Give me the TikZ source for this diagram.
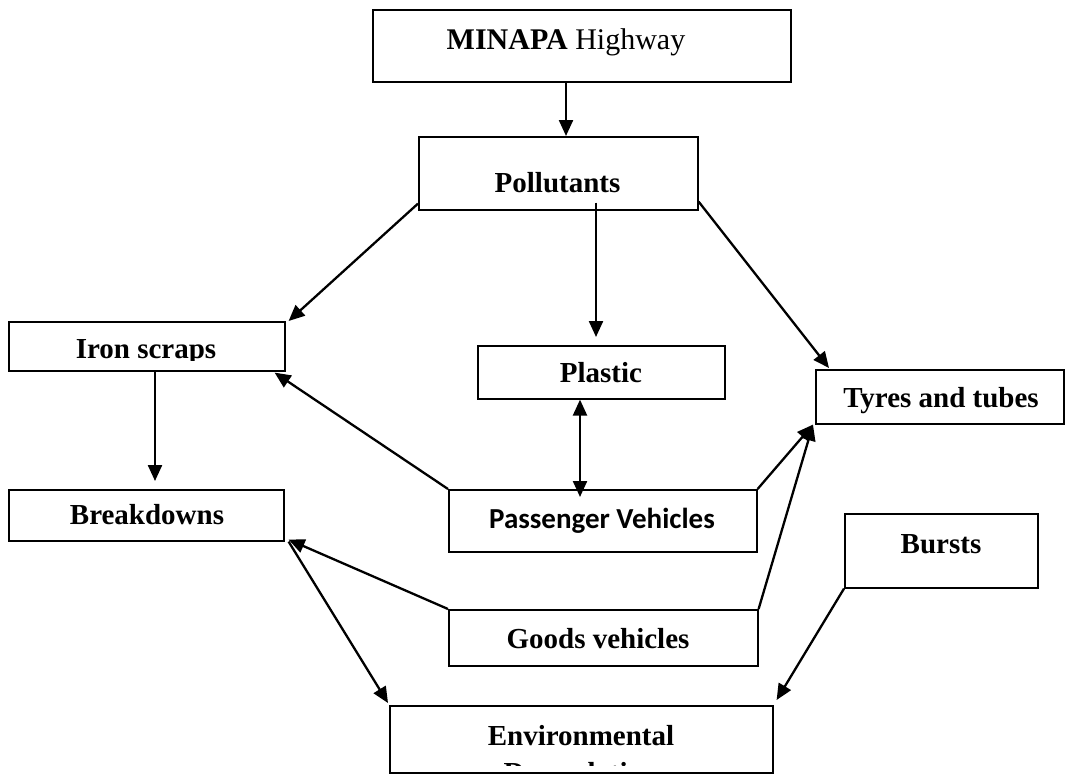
\documentclass[tikz,border=0pt]{standalone}
\usepackage{fontspec}
\setmainfont{Liberation Serif}
\newfontfamily\calib{Carlito}
\usetikzlibrary{arrows.meta,calc}
\begin{document}
\begin{tikzpicture}[x=1pt,y=-1pt,
  box/.style={draw=black,line width=1.6pt,rectangle,inner sep=0pt,anchor=north west},
  lbl/.style={anchor=base,inner sep=0pt,font=\fontsize{29}{33}\selectfont\bfseries},
  arr/.style={line width=2.3pt,-{Triangle[length=16pt,width=14pt]}},
  darr/.style={line width=2.3pt,{Triangle[length=16pt,width=14pt]}-{Triangle[length=16pt,width=14pt]}}]
\useasboundingbox (0,0) rectangle (1065,774);
% boxes
\node[box,minimum width=418pt,minimum height=72pt] (top) at (372,9) {};
\node[box,minimum width=279pt,minimum height=73pt] (poll) at (418,136) {};
\node[box,minimum width=276pt,minimum height=49pt] (iron) at (8,321) {};
\node[box,minimum width=247pt,minimum height=53pt] (plas) at (477,345) {};
\node[box,minimum width=248pt,minimum height=54pt] (tyre) at (815,369) {};
\node[box,minimum width=275pt,minimum height=51pt] (brk) at (8,489) {};
\node[box,minimum width=308pt,minimum height=62pt] (pv) at (448,489) {};
\node[box,minimum width=193pt,minimum height=74pt] (bur) at (844,513) {};
\node[box,minimum width=309pt,minimum height=56pt] (goods) at (448,609) {};
\node[box,minimum width=383pt,minimum height=67pt] (env) at (389,705) {};
% texts
\node[lbl,font=\fontsize{30}{34}\selectfont] (ttop) at (566,49) {\textbf{MINAPA} Highway};
\node[lbl] (tpoll) at (557.5,192) {Pollutants};
\begin{scope}
\clip (8,321) rectangle (284,360);
\node[lbl] (tiron) at (146,358.5) {Iron scraps};
\end{scope}
\node[lbl] (tplas) at (601,382) {Plastic};
\node[lbl] (ttyre) at (941,407) {Tyres and tubes};
\node[lbl] (tbrk) at (147,524) {Breakdowns};
\node[lbl,font=\fontsize{29}{33}\selectfont\bfseries\calib] (tpv) at (602,528) {Passenger Vehicles};
\node[lbl] (tbur) at (941,553) {Bursts};
\node[lbl] (tgoods) at (598,648) {Goods vehicles};
\node[lbl] (tenv) at (581,745) {Environmental};
\begin{scope}
\clip (389,705) rectangle (772,765);
\node[lbl] (tdeg) at (581,782) {Degradation};
\end{scope}
% connectors
\draw[arr] ($(top.south west)+(194,0)$) -- ($(poll.north west)+(148,0)$);
\draw[arr] ($(poll.south west)+(0,-7)$) -- ($(iron.north east)+(3,0)$);
\draw[arr] ($(poll.south west)+(178,-8)$) -- ($(plas.north west)+(119,-8)$);
\draw[arr] ($(poll.south east)+(0,-9)$) -- ($(tyre.north west)+(14,-1)$);
\draw[arr] ($(iron.south west)+(147,0)$) -- ($(brk.north west)+(147,-8)$);
\draw[darr] ($(plas.south west)+(103,0)$) -- ($(pv.north west)+(132,8)$);
\draw[arr] (pv.north west) -- ($(iron.south east)+(-11,1)$);
\draw[arr] (pv.north east) -- ($(tyre.south west)+(-2,0)$);
\draw[arr] (goods.north east) -- ($(tyre.south west)+(-2,0)$);
\draw[arr] (goods.north west) -- ($(brk.south east)+(4,-2)$);
\draw[arr] ($(brk.south east)+(4,0)$) -- ($(env.north west)+(-1,-2)$);
\draw[arr] (bur.south west) -- ($(env.north east)+(3,-5)$);
\end{tikzpicture}
\end{document}
